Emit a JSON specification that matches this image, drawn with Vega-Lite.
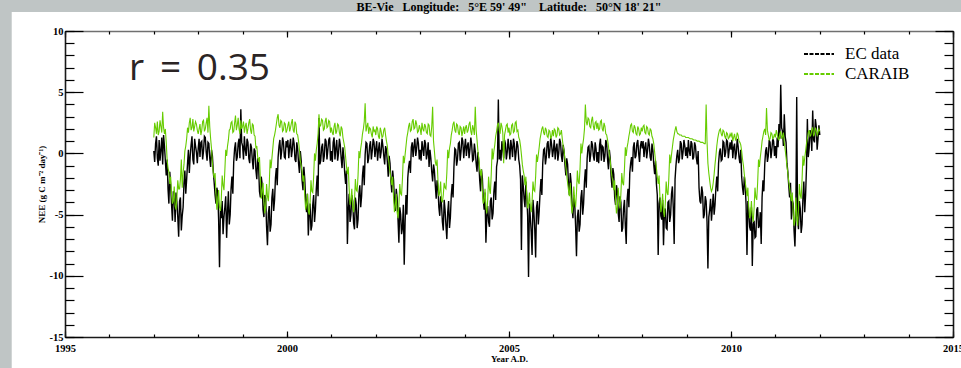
{
"$schema": "https://vega.github.io/schema/vega-lite/v6.json",
"width": 888, "height": 306,
"autosize": {"type": "none"},
"padding": {"left": 65, "top": 31, "right": 8, "bottom": 31},
"background": "#bfc5c5",
"title": {"text": "BE-Vie \u00a0 Longitude: \u00a0 5°E 59' 49\" \u00a0\u00a0 Latitude: \u00a0 50°N 18' 21\"", "font": "Liberation Serif", "fontSize": 12, "fontWeight": "bold", "color": "black", "baseline": "alphabetic", "frame": "group", "offset": -11, "anchor": "middle"},
"config": {
 "view": {"stroke": null},
 "axis": {"labelFont": "Liberation Serif", "labelFontWeight": "bold", "labelFontSize": 10.5, "labelColor": "black", "tickColor": "black", "tickWidth": 1.2, "domainColor": "#1a1a1a", "domainWidth": 1.6, "grid": false, "labelFlush": false, "labelOverlap": false, "titleFont": "Liberation Serif", "titleFontWeight": "bold", "titleFontSize": 9, "titleColor": "black"}
},
"data": {"values": [
{"t":1997,"e":0.2,"c":1.3},{"t":1997.02,"e":-0.7,"c":2.5},{"t":1997.04,"e":0.8,"c":2.1},{"t":1997.06,"e":1.4,"c":1.6},{"t":1997.08,"e":-0.4,"c":2.6},{"t":1997.1,"e":-1.0,"c":1.5},{"t":1997.12,"e":1.1,"c":1.8},{"t":1997.14,"e":-0.6,"c":2.7},{"t":1997.16,"e":0.3,"c":2.2},{"t":1997.18,"e":1.3,"c":1.7},{"t":1997.2,"e":-0.9,"c":3.4},{"t":1997.22,"e":1.5,"c":2.1},{"t":1997.24,"e":0.6,"c":1.6},{"t":1997.26,"e":-0.6,"c":2.0},{"t":1997.28,"e":-1.8,"c":0.9},{"t":1997.3,"e":-0.5,"c":-0.5},{"t":1997.32,"e":-2.9,"c":-1.2},{"t":1997.34,"e":-4.1,"c":-1.5},{"t":1997.36,"e":-1.5,"c":-2.5},{"t":1997.38,"e":-2.6,"c":-1.9},{"t":1997.4,"e":-4.2,"c":-3.4},{"t":1997.42,"e":-5.5,"c":-4.1},{"t":1997.44,"e":-3.1,"c":-3.9},{"t":1997.46,"e":-3.5,"c":-2.7},{"t":1997.48,"e":-5.6,"c":-4.3},{"t":1997.5,"e":-3.2,"c":-4.6},{"t":1997.52,"e":-4.0,"c":-3.6},{"t":1997.54,"e":-5.2,"c":-2.2},{"t":1997.56,"e":-6.8,"c":-2.9},{"t":1997.58,"e":-3.9,"c":-2.9},{"t":1997.6,"e":-3.6,"c":-2.1},{"t":1997.62,"e":-6.3,"c":-0.5},{"t":1997.64,"e":-5.1,"c":-2.8},{"t":1997.66,"e":-4.4,"c":-1.6},{"t":1997.68,"e":-2.4,"c":-0.9},{"t":1997.7,"e":-1.4,"c":0.2},{"t":1997.72,"e":-3.3,"c":0.6},{"t":1997.74,"e":-2.1,"c":1.2},{"t":1997.76,"e":-0.8,"c":2.1},{"t":1997.78,"e":0.3,"c":1.7},{"t":1997.8,"e":-1.6,"c":2.5},{"t":1997.82,"e":-0.2,"c":2.9},{"t":1997.84,"e":0.7,"c":1.9},{"t":1997.86,"e":1.4,"c":2.1},{"t":1997.88,"e":-0.5,"c":2.8},{"t":1997.9,"e":-0.9,"c":1.8},{"t":1997.92,"e":1.2,"c":2.2},{"t":1997.94,"e":0.6,"c":2.6},{"t":1997.96,"e":0.1,"c":2.4},{"t":1997.98,"e":-0.8,"c":1.9},
{"t":1998,"e":0.4,"c":1.6},{"t":1998.02,"e":1.2,"c":2.0},{"t":1998.04,"e":-0.3,"c":2.4},{"t":1998.06,"e":0.9,"c":1.5},{"t":1998.08,"e":1.0,"c":1.9},{"t":1998.1,"e":-0.5,"c":2.6},{"t":1998.12,"e":0.2,"c":2.7},{"t":1998.14,"e":1.4,"c":1.8},{"t":1998.16,"e":1.3,"c":2.0},{"t":1998.18,"e":0.1,"c":2.5},{"t":1998.2,"e":-0.6,"c":2.9},{"t":1998.22,"e":0.9,"c":1.7},{"t":1998.24,"e":0.8,"c":3.9},{"t":1998.26,"e":-0.4,"c":2.2},{"t":1998.28,"e":-1.1,"c":1.2},{"t":1998.3,"e":0.3,"c":0.4},{"t":1998.32,"e":-0.2,"c":-0.8},{"t":1998.34,"e":-1.5,"c":-1.6},{"t":1998.36,"e":-2.4,"c":-2.0},{"t":1998.38,"e":-3.4,"c":-1.6},{"t":1998.4,"e":-4.1,"c":-3.3},{"t":1998.42,"e":-2.8,"c":-4.6},{"t":1998.44,"e":-3.2,"c":-3.9},{"t":1998.46,"e":-5.4,"c":-3.0},{"t":1998.48,"e":-9.3,"c":-4.4},{"t":1998.5,"e":-4.6,"c":-4.7},{"t":1998.52,"e":-5.3,"c":-3.7},{"t":1998.54,"e":-3.9,"c":-1.8},{"t":1998.56,"e":-6.6,"c":-2.6},{"t":1998.58,"e":-5.2,"c":-3.0},{"t":1998.6,"e":-4.4,"c":-1.4},{"t":1998.62,"e":-3.5,"c":0.3},{"t":1998.64,"e":-6.9,"c":-0.2},{"t":1998.66,"e":-4.8,"c":0.6},{"t":1998.68,"e":-3.1,"c":1.1},{"t":1998.7,"e":-5.8,"c":1.9},{"t":1998.72,"e":-5.0,"c":2.0},{"t":1998.74,"e":-2.9,"c":2.5},{"t":1998.76,"e":-1.9,"c":2.6},{"t":1998.78,"e":-3.3,"c":1.7},{"t":1998.8,"e":-0.7,"c":1.8},{"t":1998.82,"e":0.4,"c":2.5},{"t":1998.84,"e":0.9,"c":3.1},{"t":1998.86,"e":-0.6,"c":1.9},{"t":1998.88,"e":-0.3,"c":2.3},{"t":1998.9,"e":0.8,"c":2.9},{"t":1998.92,"e":1.2,"c":2.0},{"t":1998.94,"e":-0.4,"c":1.6},{"t":1998.96,"e":3.6,"c":2.7},{"t":1998.98,"e":0.9,"c":2.0},
{"t":1999,"e":0.6,"c":2.2},{"t":1999.02,"e":-0.5,"c":2.6},{"t":1999.04,"e":1.4,"c":1.7},{"t":1999.06,"e":0.3,"c":2.2},{"t":1999.08,"e":-0.2,"c":2.5},{"t":1999.1,"e":1.2,"c":1.6},{"t":1999.12,"e":0.9,"c":2.0},{"t":1999.14,"e":-0.4,"c":2.5},{"t":1999.16,"e":-0.8,"c":2.8},{"t":1999.18,"e":0.8,"c":1.9},{"t":1999.2,"e":0.5,"c":1.6},{"t":1999.22,"e":-0.6,"c":2.4},{"t":1999.24,"e":-1.3,"c":2.3},{"t":1999.26,"e":0.4,"c":1.5},{"t":1999.28,"e":0.2,"c":1.4},{"t":1999.3,"e":-1.4,"c":0.4},{"t":1999.32,"e":-2.1,"c":0.6},{"t":1999.34,"e":-0.4,"c":-0.3},{"t":1999.36,"e":-1.0,"c":-0.7},{"t":1999.38,"e":-3.1,"c":-0.3},{"t":1999.4,"e":-3.6,"c":-2.1},{"t":1999.42,"e":-1.9,"c":-3.7},{"t":1999.44,"e":-2.5,"c":-3.2},{"t":1999.46,"e":-4.6,"c":-2.4},{"t":1999.48,"e":-5.2,"c":-3.9},{"t":1999.5,"e":-3.4,"c":-4.9},{"t":1999.52,"e":-3.7,"c":-4.3},{"t":1999.54,"e":-6.0,"c":-2.5},{"t":1999.56,"e":-7.5,"c":-3.5},{"t":1999.58,"e":-4.9,"c":-3.9},{"t":1999.6,"e":-4.3,"c":-2.6},{"t":1999.62,"e":-6.4,"c":-0.5},{"t":1999.64,"e":-5.8,"c":-1.2},{"t":1999.66,"e":-3.6,"c":-0.4},{"t":1999.68,"e":-2.9,"c":0.4},{"t":1999.7,"e":-4.7,"c":1.2},{"t":1999.72,"e":-3.8,"c":1.5},{"t":1999.74,"e":-2.0,"c":1.9},{"t":1999.76,"e":-1.2,"c":2.4},{"t":1999.78,"e":-2.6,"c":2.9},{"t":1999.8,"e":-0.3,"c":3.2},{"t":1999.82,"e":0.6,"c":2.3},{"t":1999.84,"e":1.1,"c":2.1},{"t":1999.86,"e":-0.5,"c":2.7},{"t":1999.88,"e":0.2,"c":2.6},{"t":1999.9,"e":1.3,"c":1.8},{"t":1999.92,"e":0.9,"c":1.9},{"t":1999.94,"e":-0.3,"c":2.5},{"t":1999.96,"e":-0.4,"c":2.4},{"t":1999.98,"e":1.0,"c":1.7},
{"t":2000,"e":0.5,"c":1.9},{"t":2000.02,"e":1.1,"c":2.3},{"t":2000.04,"e":-0.4,"c":2.6},{"t":2000.06,"e":0.6,"c":1.8},{"t":2000.08,"e":1.2,"c":2.1},{"t":2000.1,"e":-0.3,"c":2.5},{"t":2000.12,"e":0.3,"c":2.8},{"t":2000.14,"e":1.3,"c":1.9},{"t":2000.16,"e":0.8,"c":1.7},{"t":2000.18,"e":-0.5,"c":2.6},{"t":2000.2,"e":-0.7,"c":2.4},{"t":2000.22,"e":0.9,"c":1.6},{"t":2000.24,"e":0.4,"c":1.5},{"t":2000.26,"e":-0.8,"c":1.0},{"t":2000.28,"e":-1.6,"c":0.3},{"t":2000.3,"e":0.2,"c":-0.6},{"t":2000.32,"e":-0.6,"c":-1.0},{"t":2000.34,"e":-2.2,"c":-1.5},{"t":2000.36,"e":-3.0,"c":-2.3},{"t":2000.38,"e":-1.1,"c":-1.8},{"t":2000.4,"e":-2.1,"c":-3.5},{"t":2000.42,"e":-3.8,"c":-4.6},{"t":2000.44,"e":-4.8,"c":-4.2},{"t":2000.46,"e":-3.3,"c":-3.3},{"t":2000.48,"e":-6.7,"c":-4.7},{"t":2000.5,"e":-5.0,"c":-5.0},{"t":2000.52,"e":-4.1,"c":-4.0},{"t":2000.54,"e":-6.3,"c":-2.2},{"t":2000.56,"e":-5.9,"c":-3.1},{"t":2000.58,"e":-4.2,"c":-3.2},{"t":2000.6,"e":-3.4,"c":-1.9},{"t":2000.62,"e":-5.6,"c":0.0},{"t":2000.64,"e":-4.6,"c":-0.6},{"t":2000.66,"e":-2.9,"c":0.3},{"t":2000.68,"e":-1.8,"c":0.8},{"t":2000.7,"e":-3.5,"c":1.6},{"t":2000.72,"e":2.9,"c":3.2},{"t":2000.74,"e":-0.9,"c":2.2},{"t":2000.76,"e":-0.6,"c":2.3},{"t":2000.78,"e":0.5,"c":2.8},{"t":2000.8,"e":0.8,"c":2.7},{"t":2000.82,"e":-0.7,"c":1.9},{"t":2000.84,"e":-0.2,"c":2.0},{"t":2000.86,"e":1.2,"c":2.6},{"t":2000.88,"e":1.0,"c":2.9},{"t":2000.9,"e":-0.5,"c":2.1},{"t":2000.92,"e":0.3,"c":2.2},{"t":2000.94,"e":1.1,"c":2.7},{"t":2000.96,"e":1.3,"c":2.6},{"t":2000.98,"e":-0.6,"c":1.7},
{"t":2001,"e":0.2,"c":2.1},{"t":2001.02,"e":-0.7,"c":1.7},{"t":2001.04,"e":0.9,"c":1.5},{"t":2001.06,"e":1.3,"c":2.2},{"t":2001.08,"e":-0.5,"c":2.5},{"t":2001.1,"e":0.4,"c":1.6},{"t":2001.12,"e":1.1,"c":1.8},{"t":2001.14,"e":-0.6,"c":2.4},{"t":2001.16,"e":0.0,"c":2.3},{"t":2001.18,"e":1.2,"c":1.7},{"t":2001.2,"e":0.7,"c":1.4},{"t":2001.22,"e":-0.4,"c":2.2},{"t":2001.24,"e":-1.2,"c":2.0},{"t":2001.26,"e":0.5,"c":1.3},{"t":2001.28,"e":-0.3,"c":0.9},{"t":2001.3,"e":-1.6,"c":0.5},{"t":2001.32,"e":-2.5,"c":-0.3},{"t":2001.34,"e":-1.4,"c":-1.1},{"t":2001.36,"e":-7.4,"c":-1.7},{"t":2001.38,"e":-4.5,"c":-1.1},{"t":2001.4,"e":-3.3,"c":-2.9},{"t":2001.42,"e":-5.6,"c":-4.2},{"t":2001.44,"e":-5.0,"c":-3.8},{"t":2001.46,"e":-3.4,"c":-2.9},{"t":2001.48,"e":-3.9,"c":-4.4},{"t":2001.5,"e":-5.7,"c":-4.8},{"t":2001.52,"e":-6.2,"c":-3.9},{"t":2001.54,"e":-3.6,"c":-2.1},{"t":2001.56,"e":-4.2,"c":-3.0},{"t":2001.58,"e":-6.1,"c":-3.1},{"t":2001.6,"e":-5.4,"c":-1.8},{"t":2001.62,"e":-3.3,"c":0.2},{"t":2001.64,"e":-2.6,"c":-0.4},{"t":2001.66,"e":-4.4,"c":0.4},{"t":2001.68,"e":-3.5,"c":0.9},{"t":2001.7,"e":-1.8,"c":1.6},{"t":2001.72,"e":-1.0,"c":2.0},{"t":2001.74,"e":-2.6,"c":2.6},{"t":2001.76,"e":-0.1,"c":4.1},{"t":2001.78,"e":0.9,"c":1.8},{"t":2001.8,"e":0.8,"c":2.2},{"t":2001.82,"e":-0.8,"c":2.5},{"t":2001.84,"e":-0.4,"c":1.6},{"t":2001.86,"e":0.6,"c":2.1},{"t":2001.88,"e":1.0,"c":2.0},{"t":2001.9,"e":-0.5,"c":1.6},{"t":2001.92,"e":0.2,"c":1.3},{"t":2001.94,"e":1.2,"c":2.2},{"t":2001.96,"e":0.9,"c":1.8},{"t":2001.98,"e":-0.3,"c":1.9},
{"t":2002,"e":0.4,"c":1.5},{"t":2002.02,"e":1.0,"c":2.2},{"t":2002.04,"e":-0.6,"c":2.0},{"t":2002.06,"e":0.3,"c":1.4},{"t":2002.08,"e":0.9,"c":1.2},{"t":2002.1,"e":-0.4,"c":2.1},{"t":2002.12,"e":0.1,"c":1.8},{"t":2002.14,"e":1.2,"c":1.3},{"t":2002.16,"e":0.6,"c":1.4},{"t":2002.18,"e":-0.2,"c":1.9},{"t":2002.2,"e":-0.9,"c":2.1},{"t":2002.22,"e":0.6,"c":1.5},{"t":2002.24,"e":0.3,"c":1.0},{"t":2002.26,"e":-0.7,"c":0.6},{"t":2002.28,"e":-1.9,"c":-0.2},{"t":2002.3,"e":-0.2,"c":-0.9},{"t":2002.32,"e":-0.8,"c":-1.5},{"t":2002.34,"e":-2.3,"c":-2.1},{"t":2002.36,"e":-3.2,"c":-2.6},{"t":2002.38,"e":-1.4,"c":-1.9},{"t":2002.4,"e":-2.2,"c":-3.6},{"t":2002.42,"e":-3.9,"c":-4.8},{"t":2002.44,"e":-4.7,"c":-4.3},{"t":2002.46,"e":-2.9,"c":-3.3},{"t":2002.48,"e":-3.6,"c":-4.8},{"t":2002.5,"e":-5.4,"c":-5.3},{"t":2002.52,"e":-7.3,"c":-4.2},{"t":2002.54,"e":-4.4,"c":-2.5},{"t":2002.56,"e":-5.0,"c":-3.3},{"t":2002.58,"e":-6.6,"c":-3.4},{"t":2002.6,"e":-6.1,"c":-2.1},{"t":2002.62,"e":-4.2,"c":-0.2},{"t":2002.64,"e":-9.1,"c":-0.8},{"t":2002.66,"e":-5.6,"c":-0.1},{"t":2002.68,"e":-3.4,"c":0.6},{"t":2002.7,"e":-5.0,"c":1.3},{"t":2002.72,"e":-2.0,"c":1.7},{"t":2002.74,"e":-1.1,"c":2.2},{"t":2002.76,"e":-0.6,"c":2.5},{"t":2002.78,"e":-1.6,"c":1.8},{"t":2002.8,"e":0.5,"c":1.9},{"t":2002.82,"e":0.9,"c":2.6},{"t":2002.84,"e":-0.3,"c":2.8},{"t":2002.86,"e":0.6,"c":2.0},{"t":2002.88,"e":1.2,"c":2.1},{"t":2002.9,"e":-0.2,"c":2.7},{"t":2002.92,"e":0.4,"c":2.4},{"t":2002.94,"e":1.3,"c":1.7},{"t":2002.96,"e":0.8,"c":1.8},{"t":2002.98,"e":-0.5,"c":2.3},
{"t":2003,"e":0.3,"c":2.0},{"t":2003.02,"e":-0.6,"c":1.5},{"t":2003.04,"e":1.0,"c":2.5},{"t":2003.06,"e":0.4,"c":2.0},{"t":2003.08,"e":-0.2,"c":1.8},{"t":2003.1,"e":1.1,"c":2.4},{"t":2003.12,"e":0.8,"c":2.2},{"t":2003.14,"e":-0.5,"c":1.7},{"t":2003.16,"e":0.0,"c":1.6},{"t":2003.18,"e":0.9,"c":2.4},{"t":2003.2,"e":-1.1,"c":2.3},{"t":2003.22,"e":0.3,"c":1.5},{"t":2003.24,"e":-0.4,"c":1.4},{"t":2003.26,"e":-1.5,"c":2.2},{"t":2003.28,"e":-2.3,"c":3.8},{"t":2003.3,"e":-0.9,"c":1.0},{"t":2003.32,"e":-1.4,"c":0.2},{"t":2003.34,"e":-2.6,"c":-0.7},{"t":2003.36,"e":-3.7,"c":-1.0},{"t":2003.38,"e":-2.2,"c":-0.5},{"t":2003.4,"e":-2.8,"c":-2.2},{"t":2003.42,"e":-4.4,"c":-3.5},{"t":2003.44,"e":-5.1,"c":-3.2},{"t":2003.46,"e":-3.5,"c":-2.3},{"t":2003.48,"e":-4.2,"c":-3.8},{"t":2003.5,"e":-5.6,"c":-4.0},{"t":2003.52,"e":-6.3,"c":-3.4},{"t":2003.54,"e":-3.8,"c":-2.4},{"t":2003.56,"e":-4.6,"c":-2.8},{"t":2003.58,"e":-5.9,"c":-2.9},{"t":2003.6,"e":-7.0,"c":-1.6},{"t":2003.62,"e":-4.8,"c":0.3},{"t":2003.64,"e":-3.9,"c":-0.4},{"t":2003.66,"e":-6.1,"c":0.4},{"t":2003.68,"e":-5.2,"c":0.8},{"t":2003.7,"e":-3.4,"c":1.5},{"t":2003.72,"e":-2.5,"c":1.9},{"t":2003.74,"e":-3.6,"c":2.4},{"t":2003.76,"e":-1.1,"c":2.6},{"t":2003.78,"e":0.4,"c":1.9},{"t":2003.8,"e":0.3,"c":1.7},{"t":2003.82,"e":-1.0,"c":2.4},{"t":2003.84,"e":-0.5,"c":2.3},{"t":2003.86,"e":0.8,"c":1.7},{"t":2003.88,"e":0.9,"c":1.5},{"t":2003.9,"e":-0.6,"c":2.2},{"t":2003.92,"e":0.2,"c":2.1},{"t":2003.94,"e":1.3,"c":1.4},{"t":2003.96,"e":1.0,"c":1.8},{"t":2003.98,"e":-0.4,"c":2.2},
{"t":2004,"e":0.5,"c":1.6},{"t":2004.02,"e":1.2,"c":2.1},{"t":2004.04,"e":-0.2,"c":2.3},{"t":2004.06,"e":0.6,"c":1.7},{"t":2004.08,"e":0.9,"c":1.9},{"t":2004.1,"e":-0.4,"c":2.4},{"t":2004.12,"e":0.3,"c":2.6},{"t":2004.14,"e":1.3,"c":1.8},{"t":2004.16,"e":0.7,"c":1.5},{"t":2004.18,"e":-0.6,"c":2.3},{"t":2004.2,"e":-0.5,"c":2.0},{"t":2004.22,"e":0.8,"c":1.5},{"t":2004.24,"e":0.2,"c":3.8},{"t":2004.26,"e":-0.8,"c":1.9},{"t":2004.28,"e":-1.5,"c":1.1},{"t":2004.3,"e":0.1,"c":0.2},{"t":2004.32,"e":-0.7,"c":-0.4},{"t":2004.34,"e":-2.2,"c":-1.3},{"t":2004.36,"e":-3.1,"c":-1.8},{"t":2004.38,"e":-1.3,"c":-1.3},{"t":2004.4,"e":-2.0,"c":-3.0},{"t":2004.42,"e":-3.7,"c":-4.1},{"t":2004.44,"e":-4.6,"c":-3.9},{"t":2004.46,"e":-3.2,"c":-2.9},{"t":2004.48,"e":-7.3,"c":-4.4},{"t":2004.5,"e":-5.1,"c":-4.9},{"t":2004.52,"e":-4.3,"c":-3.8},{"t":2004.54,"e":-5.6,"c":-1.9},{"t":2004.56,"e":-6.0,"c":-2.9},{"t":2004.58,"e":-3.9,"c":-3.3},{"t":2004.6,"e":-3.6,"c":-1.7},{"t":2004.62,"e":-5.4,"c":0.4},{"t":2004.64,"e":-4.9,"c":-0.5},{"t":2004.66,"e":-3.1,"c":0.2},{"t":2004.68,"e":-2.3,"c":0.7},{"t":2004.7,"e":-3.8,"c":1.4},{"t":2004.72,"e":-1.1,"c":1.8},{"t":2004.74,"e":-0.6,"c":2.3},{"t":2004.76,"e":4.4,"c":2.5},{"t":2004.78,"e":-0.5,"c":1.9},{"t":2004.8,"e":0.3,"c":1.6},{"t":2004.82,"e":-0.6,"c":2.5},{"t":2004.84,"e":1.0,"c":2.2},{"t":2004.86,"e":0.4,"c":1.7},{"t":2004.88,"e":-0.4,"c":-0.8},{"t":2004.9,"e":1.1,"c":1.5},{"t":2004.92,"e":0.8,"c":1.9},{"t":2004.94,"e":-0.5,"c":2.3},{"t":2004.96,"e":0.1,"c":2.4},{"t":2004.98,"e":1.2,"c":1.7},
{"t":2005,"e":0.4,"c":2.1},{"t":2005.02,"e":-0.5,"c":1.5},{"t":2005.04,"e":1.1,"c":1.6},{"t":2005.06,"e":0.5,"c":2.3},{"t":2005.08,"e":-0.3,"c":2.4},{"t":2005.1,"e":1.2,"c":1.7},{"t":2005.12,"e":0.8,"c":1.8},{"t":2005.14,"e":-0.6,"c":2.5},{"t":2005.16,"e":0.1,"c":2.6},{"t":2005.18,"e":1.0,"c":1.8},{"t":2005.2,"e":0.6,"c":1.9},{"t":2005.22,"e":-0.5,"c":1.3},{"t":2005.24,"e":-1.0,"c":1.1},{"t":2005.26,"e":-2.1,"c":0.6},{"t":2005.28,"e":-7.9,"c":-0.1},{"t":2005.3,"e":-1.8,"c":-0.9},{"t":2005.32,"e":-2.6,"c":-1.4},{"t":2005.34,"e":-3.7,"c":-1.8},{"t":2005.36,"e":-4.4,"c":-2.6},{"t":2005.38,"e":-2.3,"c":-1.9},{"t":2005.4,"e":-3.5,"c":-3.5},{"t":2005.42,"e":-5.1,"c":-4.5},{"t":2005.44,"e":-10.1,"c":-4.1},{"t":2005.46,"e":-4.1,"c":-3.2},{"t":2005.48,"e":-5.2,"c":-4.4},{"t":2005.5,"e":-6.4,"c":-4.8},{"t":2005.52,"e":-8.3,"c":-3.9},{"t":2005.54,"e":-3.8,"c":-2.3},{"t":2005.56,"e":-4.8,"c":-3.0},{"t":2005.58,"e":-6.2,"c":-3.1},{"t":2005.6,"e":-8.5,"c":-1.9},{"t":2005.62,"e":-4.4,"c":-0.1},{"t":2005.64,"e":-3.9,"c":-0.7},{"t":2005.66,"e":-5.8,"c":-0.1},{"t":2005.68,"e":-4.7,"c":0.5},{"t":2005.7,"e":-3.2,"c":1.2},{"t":2005.72,"e":-2.1,"c":1.6},{"t":2005.74,"e":-3.4,"c":2.0},{"t":2005.76,"e":-0.8,"c":2.2},{"t":2005.78,"e":0.3,"c":1.7},{"t":2005.8,"e":0.4,"c":1.5},{"t":2005.82,"e":-0.9,"c":2.1},{"t":2005.84,"e":-0.3,"c":1.9},{"t":2005.86,"e":0.8,"c":1.4},{"t":2005.88,"e":1.0,"c":1.3},{"t":2005.9,"e":-0.4,"c":1.9},{"t":2005.92,"e":0.2,"c":1.8},{"t":2005.94,"e":1.3,"c":1.2},{"t":2005.96,"e":0.7,"c":1.4},{"t":2005.98,"e":-0.3,"c":1.9},
{"t":2006,"e":0.3,"c":1.4},{"t":2006.02,"e":1.1,"c":2.0},{"t":2006.04,"e":-0.5,"c":1.9},{"t":2006.06,"e":0.4,"c":1.3},{"t":2006.08,"e":0.8,"c":1.5},{"t":2006.1,"e":-0.6,"c":2.1},{"t":2006.12,"e":0.0,"c":2.0},{"t":2006.14,"e":1.2,"c":1.5},{"t":2006.16,"e":0.9,"c":1.6},{"t":2006.18,"e":-0.2,"c":1.9},{"t":2006.2,"e":-0.7,"c":1.2},{"t":2006.22,"e":0.7,"c":0.6},{"t":2006.24,"e":0.2,"c":0.2},{"t":2006.26,"e":-0.9,"c":-0.5},{"t":2006.28,"e":-1.8,"c":-1.1},{"t":2006.3,"e":-0.4,"c":-1.8},{"t":2006.32,"e":-0.9,"c":-2.4},{"t":2006.34,"e":-2.5,"c":-3.0},{"t":2006.36,"e":-3.4,"c":-3.5},{"t":2006.38,"e":-1.6,"c":-2.4},{"t":2006.4,"e":-2.4,"c":-4.0},{"t":2006.42,"e":-4.3,"c":-4.9},{"t":2006.44,"e":-5.3,"c":-4.3},{"t":2006.46,"e":-3.4,"c":-2.7},{"t":2006.48,"e":-4.1,"c":-3.9},{"t":2006.5,"e":-5.9,"c":-4.4},{"t":2006.52,"e":-8.4,"c":-3.2},{"t":2006.54,"e":-5.2,"c":-1.4},{"t":2006.56,"e":-4.6,"c":-2.3},{"t":2006.58,"e":-6.4,"c":-2.5},{"t":2006.6,"e":-5.8,"c":-1.2},{"t":2006.62,"e":-3.6,"c":0.8},{"t":2006.64,"e":-3.0,"c":0.0},{"t":2006.66,"e":-5.0,"c":0.7},{"t":2006.68,"e":-4.1,"c":1.2},{"t":2006.7,"e":-2.3,"c":2.0},{"t":2006.72,"e":-1.3,"c":4.0},{"t":2006.74,"e":-2.8,"c":2.6},{"t":2006.76,"e":-0.4,"c":2.3},{"t":2006.78,"e":0.5,"c":2.9},{"t":2006.8,"e":0.6,"c":2.8},{"t":2006.82,"e":-0.7,"c":2.2},{"t":2006.84,"e":-0.1,"c":2.1},{"t":2006.86,"e":1.0,"c":2.7},{"t":2006.88,"e":0.7,"c":3.0},{"t":2006.9,"e":-0.2,"c":2.2},{"t":2006.92,"e":-0.6,"c":1.9},{"t":2006.94,"e":0.9,"c":2.5},{"t":2006.96,"e":0.4,"c":2.6},{"t":2006.98,"e":-0.7,"c":2.0},
{"t":2007,"e":0.1,"c":2.5},{"t":2007.02,"e":-0.8,"c":1.9},{"t":2007.04,"e":0.7,"c":2.0},{"t":2007.06,"e":1.2,"c":2.6},{"t":2007.08,"e":-0.6,"c":2.7},{"t":2007.1,"e":0.6,"c":2.0},{"t":2007.12,"e":0.5,"c":1.8},{"t":2007.14,"e":-0.7,"c":2.5},{"t":2007.16,"e":-0.2,"c":2.2},{"t":2007.18,"e":1.1,"c":1.6},{"t":2007.2,"e":0.8,"c":1.5},{"t":2007.22,"e":-0.5,"c":1.1},{"t":2007.24,"e":-1.3,"c":0.6},{"t":2007.26,"e":0.3,"c":-0.1},{"t":2007.28,"e":-0.4,"c":-0.6},{"t":2007.3,"e":-1.9,"c":-1.4},{"t":2007.32,"e":-2.8,"c":-1.9},{"t":2007.34,"e":-1.2,"c":-2.3},{"t":2007.36,"e":-1.7,"c":-3.0},{"t":2007.38,"e":-3.6,"c":-2.2},{"t":2007.4,"e":-4.2,"c":-3.8},{"t":2007.42,"e":-2.6,"c":-4.9},{"t":2007.44,"e":-3.1,"c":-4.4},{"t":2007.46,"e":-4.9,"c":-2.8},{"t":2007.48,"e":-5.6,"c":-4.0},{"t":2007.5,"e":-3.5,"c":-4.5},{"t":2007.52,"e":-4.0,"c":-3.3},{"t":2007.54,"e":-6.4,"c":-1.6},{"t":2007.56,"e":-6.1,"c":-2.4},{"t":2007.58,"e":-4.5,"c":-2.6},{"t":2007.6,"e":-3.8,"c":-1.3},{"t":2007.62,"e":-5.9,"c":0.5},{"t":2007.64,"e":-7.4,"c":-0.2},{"t":2007.66,"e":-3.8,"c":0.5},{"t":2007.68,"e":-2.9,"c":0.9},{"t":2007.7,"e":-4.4,"c":1.4},{"t":2007.72,"e":-1.6,"c":1.8},{"t":2007.74,"e":-0.8,"c":2.3},{"t":2007.76,"e":-0.3,"c":2.4},{"t":2007.78,"e":-1.5,"c":1.8},{"t":2007.8,"e":0.5,"c":1.7},{"t":2007.82,"e":0.9,"c":2.3},{"t":2007.84,"e":-0.4,"c":2.1},{"t":2007.86,"e":-0.2,"c":1.6},{"t":2007.88,"e":0.8,"c":1.5},{"t":2007.9,"e":1.1,"c":2.2},{"t":2007.92,"e":0.0,"c":2.0},{"t":2007.94,"e":-0.7,"c":1.5},{"t":2007.96,"e":0.6,"c":1.6},{"t":2007.98,"e":1.0,"c":2.1},
{"t":2008,"e":0.4,"c":1.8},{"t":2008.02,"e":1.0,"c":2.2},{"t":2008.04,"e":-0.3,"c":2.3},{"t":2008.06,"e":0.5,"c":1.7},{"t":2008.08,"e":0.9,"c":1.6},{"t":2008.1,"e":-0.4,"c":2.2},{"t":2008.12,"e":0.2,"c":2.1},{"t":2008.14,"e":1.2,"c":1.6},{"t":2008.16,"e":0.7,"c":1.5},{"t":2008.18,"e":-0.3,"c":2.0},{"t":2008.2,"e":-0.6,"c":1.9},{"t":2008.22,"e":0.8,"c":1.4},{"t":2008.24,"e":0.3,"c":1.2},{"t":2008.26,"e":-0.9,"c":0.8},{"t":2008.28,"e":-1.7,"c":0.1},{"t":2008.3,"e":-0.6,"c":-0.6},{"t":2008.32,"e":-2.5,"c":-1.2},{"t":2008.34,"e":-3.4,"c":-1.9},{"t":2008.36,"e":-8.3,"c":-2.5},{"t":2008.38,"e":-4.1,"c":-1.8},{"t":2008.4,"e":-3.6,"c":-3.6},{"t":2008.42,"e":-5.1,"c":-4.8},{"t":2008.44,"e":-5.4,"c":-4.3},{"t":2008.46,"e":-3.8,"c":-3.3},{"t":2008.48,"e":-7.5,"c":-4.7},{"t":2008.5,"e":-4.9,"c":-5.2},{"t":2008.52,"e":-4.5,"c":-4.1},{"t":2008.54,"e":-6.1,"c":-2.3},{"t":2008.56,"e":-6.2,"c":-3.2},{"t":2008.58,"e":-4.0,"c":-3.4},{"t":2008.6,"e":-3.9,"c":-2.0},{"t":2008.62,"e":-5.6,"c":-0.1},{"t":2008.64,"e":-5.0,"c":-0.8},{"t":2008.66,"e":-3.3,"c":-0.1},{"t":2008.68,"e":-2.7,"c":0.5},{"t":2008.7,"e":-4.4,"c":1.1},{"t":2008.72,"e":-7.4,"c":1.5},{"t":2008.74,"e":-2.1,"c":1.9},{"t":2008.76,"e":-1.0,"c":2.2},{"t":2008.78,"e":-0.2,"c":1.8},{"t":2008.8,"e":0.3,"c":1.6},{"t":2008.82,"e":-0.8,"c":1.6},{"t":2008.84,"e":-0.4,"c":1.5},{"t":2008.86,"e":1.0,"c":1.5},{"t":2008.88,"e":0.8,"c":1.5},{"t":2008.9,"e":-0.5,"c":1.4},{"t":2008.92,"e":0.1,"c":1.4},{"t":2008.94,"e":1.1,"c":1.4},{"t":2008.96,"e":0.6,"c":1.4},{"t":2008.98,"e":-0.2,"c":1.3},
{"t":2009,"e":0.5,"c":1.3},{"t":2009.02,"e":-0.4,"c":1.3},{"t":2009.04,"e":1.1,"c":1.3},{"t":2009.06,"e":0.2,"c":1.25},{"t":2009.08,"e":-0.2,"c":1.2},{"t":2009.1,"e":1.0,"c":1.2},{"t":2009.12,"e":0.8,"c":1.2},{"t":2009.14,"e":-0.5,"c":1.15},{"t":2009.16,"e":-0.3,"c":1.1},{"t":2009.18,"e":0.9,"c":1.1},{"t":2009.2,"e":0.6,"c":1.1},{"t":2009.22,"e":-0.4,"c":1.05},{"t":2009.24,"e":-0.9,"c":1.0},{"t":2009.26,"e":0.2,"c":1.0},{"t":2009.28,"e":-2.8,"c":1.0},{"t":2009.3,"e":-3.9,"c":0.95},{"t":2009.32,"e":-4.1,"c":0.9},{"t":2009.34,"e":-2.7,"c":0.9},{"t":2009.36,"e":-3.2,"c":0.9},{"t":2009.38,"e":-5.3,"c":0.85},{"t":2009.4,"e":-5.0,"c":0.8},{"t":2009.42,"e":-3.5,"c":0.8},{"t":2009.44,"e":-3.9,"c":4.0},{"t":2009.46,"e":-5.6,"c":1.0},{"t":2009.48,"e":-9.4,"c":-0.8},{"t":2009.5,"e":-5.2,"c":-1.6},{"t":2009.52,"e":-4.6,"c":-2.2},{"t":2009.54,"e":-3.7,"c":-2.8},{"t":2009.56,"e":-5.5,"c":-3.1},{"t":2009.58,"e":-4.4,"c":-2.9},{"t":2009.6,"e":-3.3,"c":-2.4},{"t":2009.62,"e":-5.0,"c":-1.7},{"t":2009.64,"e":-4.2,"c":-0.9},{"t":2009.66,"e":-2.8,"c":-0.2},{"t":2009.68,"e":-1.9,"c":0.6},{"t":2009.7,"e":-3.1,"c":1.2},{"t":2009.72,"e":-0.8,"c":1.6},{"t":2009.74,"e":0.1,"c":1.9},{"t":2009.76,"e":0.4,"c":2.0},{"t":2009.78,"e":-0.6,"c":1.6},{"t":2009.8,"e":-0.5,"c":1.4},{"t":2009.82,"e":1.0,"c":1.9},{"t":2009.84,"e":0.9,"c":1.8},{"t":2009.86,"e":-0.3,"c":1.4},{"t":2009.88,"e":0.1,"c":1.2},{"t":2009.9,"e":1.1,"c":1.7},{"t":2009.92,"e":1.0,"c":1.6},{"t":2009.94,"e":-0.4,"c":1.2},{"t":2009.96,"e":0.3,"c":1.3},{"t":2009.98,"e":0.9,"c":1.6},
{"t":2010,"e":0.3,"c":1.4},{"t":2010.02,"e":1.1,"c":1.7},{"t":2010.04,"e":-0.4,"c":1.0},{"t":2010.06,"e":0.5,"c":1.3},{"t":2010.08,"e":0.8,"c":1.6},{"t":2010.1,"e":-0.5,"c":1.1},{"t":2010.12,"e":0.0,"c":1.2},{"t":2010.14,"e":1.2,"c":1.7},{"t":2010.16,"e":0.6,"c":1.5},{"t":2010.18,"e":-0.3,"c":1.0},{"t":2010.2,"e":-0.8,"c":0.9},{"t":2010.22,"e":0.3,"c":0.7},{"t":2010.24,"e":-1.9,"c":0.2},{"t":2010.26,"e":-2.8,"c":-0.5},{"t":2010.28,"e":-3.4,"c":-1.0},{"t":2010.3,"e":-1.9,"c":-1.7},{"t":2010.32,"e":-2.6,"c":-2.3},{"t":2010.34,"e":-4.2,"c":-2.9},{"t":2010.36,"e":-8.3,"c":-3.5},{"t":2010.38,"e":-3.9,"c":-2.8},{"t":2010.4,"e":-4.8,"c":-4.4},{"t":2010.42,"e":-6.0,"c":-5.3},{"t":2010.44,"e":-6.3,"c":-4.9},{"t":2010.46,"e":-4.4,"c":-3.9},{"t":2010.48,"e":-9.2,"c":-5.1},{"t":2010.5,"e":-5.8,"c":-5.6},{"t":2010.52,"e":-5.5,"c":-4.5},{"t":2010.54,"e":-6.9,"c":-2.8},{"t":2010.56,"e":-6.8,"c":-3.6},{"t":2010.58,"e":-4.6,"c":-3.8},{"t":2010.6,"e":-4.4,"c":-2.4},{"t":2010.62,"e":-6.1,"c":-0.5},{"t":2010.64,"e":-5.9,"c":-1.1},{"t":2010.66,"e":-4.8,"c":-0.3},{"t":2010.68,"e":-7.4,"c":0.3},{"t":2010.7,"e":-3.6,"c":1.0},{"t":2010.72,"e":-2.2,"c":1.4},{"t":2010.74,"e":-3.1,"c":1.8},{"t":2010.76,"e":-0.9,"c":2.0},{"t":2010.78,"e":0.2,"c":1.5},{"t":2010.8,"e":0.5,"c":3.7},{"t":2010.82,"e":-0.7,"c":1.9},{"t":2010.84,"e":-0.2,"c":1.5},{"t":2010.86,"e":1.1,"c":1.1},{"t":2010.88,"e":0.9,"c":1.2},{"t":2010.9,"e":-0.4,"c":1.7},{"t":2010.92,"e":0.3,"c":1.6},{"t":2010.94,"e":1.2,"c":1.2},{"t":2010.96,"e":1.0,"c":1.3},{"t":2010.98,"e":-0.2,"c":1.6},
{"t":2011,"e":0.6,"c":1.3},{"t":2011.02,"e":-0.4,"c":1.9},{"t":2011.04,"e":1.3,"c":1.6},{"t":2011.06,"e":0.5,"c":1.2},{"t":2011.08,"e":2.4,"c":1.1},{"t":2011.1,"e":1.2,"c":1.6},{"t":2011.12,"e":5.6,"c":1.8},{"t":2011.14,"e":2.1,"c":1.2},{"t":2011.16,"e":1.8,"c":1.4},{"t":2011.18,"e":0.6,"c":1.7},{"t":2011.2,"e":3.2,"c":0.9},{"t":2011.22,"e":1.4,"c":0.3},{"t":2011.24,"e":0.9,"c":-0.3},{"t":2011.26,"e":-0.8,"c":-1.0},{"t":2011.28,"e":-1.5,"c":-1.6},{"t":2011.3,"e":-2.6,"c":-2.3},{"t":2011.32,"e":-3.6,"c":-2.8},{"t":2011.34,"e":-2.4,"c":-3.4},{"t":2011.36,"e":-5.4,"c":-3.9},{"t":2011.38,"e":-3.8,"c":-3.2},{"t":2011.4,"e":-4.1,"c":-4.8},{"t":2011.42,"e":-6.3,"c":-5.9},{"t":2011.44,"e":-7.6,"c":-5.5},{"t":2011.46,"e":-4.9,"c":-3.6},{"t":2011.48,"e":4.6,"c":-5.1},{"t":2011.5,"e":-5.5,"c":-5.9},{"t":2011.52,"e":-6.2,"c":-4.4},{"t":2011.54,"e":-3.9,"c":-2.5},{"t":2011.56,"e":-4.5,"c":-3.4},{"t":2011.58,"e":-6.5,"c":-3.7},{"t":2011.6,"e":-5.8,"c":-2.2},{"t":2011.62,"e":-3.6,"c":-0.2},{"t":2011.64,"e":-2.3,"c":-1.0},{"t":2011.66,"e":-4.8,"c":-0.4},{"t":2011.68,"e":-3.4,"c":0.2},{"t":2011.7,"e":-1.2,"c":0.8},{"t":2011.72,"e":2.8,"c":1.2},{"t":2011.74,"e":-0.3,"c":1.7},{"t":2011.76,"e":0.4,"c":1.9},{"t":2011.78,"e":1.9,"c":1.4},{"t":2011.8,"e":1.6,"c":1.5},{"t":2011.82,"e":0.2,"c":2.0},{"t":2011.84,"e":3.5,"c":2.1},{"t":2011.86,"e":1.1,"c":1.4},{"t":2011.88,"e":0.9,"c":1.6},{"t":2011.9,"e":2.8,"c":2.1},{"t":2011.92,"e":2.2,"c":1.9},{"t":2011.94,"e":0.3,"c":1.5},{"t":2011.96,"e":1.2,"c":1.7},{"t":2011.98,"e":2.3,"c":2.0},
{"t":2012,"e":1.5,"c":1.8}
]},
"layer": [
 {
  "data": {"values": [{}]},
  "mark": {"type": "rect", "color": "white", "clip": false},
  "encoding": {
   "x": {"datum": 1993.8, "type": "quantitative", "scale": {"domain": [1995, 2015], "nice": false, "zero": false}, "axis": null},
   "x2": {"datum": 2016.5},
   "y": {"datum": 11.55, "type": "quantitative", "scale": {"domain": [-15, 10], "nice": false, "zero": false}, "axis": null},
   "y2": {"datum": -18}
  }
 },
 {
  "mark": {"type": "line", "strokeWidth": 1.4},
  "encoding": {
   "x": {"field": "t", "type": "quantitative",
    "axis": {"zindex": 2, "orient": "bottom", "values": [1995, 2000, 2005, 2010, 2015], "labelExpr": "datum.value + ''", "tickSize": -6, "labelPadding": 12, "title": "Year A.D.", "titlePadding": 1, "domain": true}},
   "y": {"field": "e", "type": "quantitative",
    "axis": {"zindex": 2, "orient": "left", "values": [-15, -10, -5, 0, 5, 10], "labelExpr": "datum.value + ''", "tickSize": -18, "labelPadding": 20, "title": "NEE (g C m\u207b\u00b2 day\u207b\u00b9)", "titlePadding": 3, "domain": true}},
   "color": {"datum": "EC data", "type": "nominal", "scale": {"domain": ["EC data", "CARAIB"], "range": ["#000000", "#66cc00"]},
    "legend": {"orient": "none", "legendX": 738, "legendY": 13, "title": null, "symbolType": "stroke", "symbolSize": 900, "symbolStrokeWidth": 2, "symbolDash": [4, 1.5], "labelFont": "Liberation Serif", "labelFontSize": 17, "labelColor": "black", "labelOffset": 10, "rowPadding": 0, "clipHeight": 20}}
  }
 },
 {
  "mark": {"type": "line", "strokeWidth": 1.1},
  "encoding": {
   "x": {"field": "t", "type": "quantitative", "axis": {"zindex": 2, "orient": "bottom", "values": [1995,1996,1997,1998,1999,2000,2001,2002,2003,2004,2005,2006,2007,2008,2009,2010,2011,2012,2013,2014,2015], "labels": false, "tickSize": -3, "title": null, "domain": false}},
   "y": {"field": "c", "type": "quantitative", "axis": {"zindex": 2, "orient": "left", "values": [-15,-14,-13,-12,-11,-10,-9,-8,-7,-6,-5,-4,-3,-2,-1,0,1,2,3,4,5,6,7,8,9,10], "labels": false, "tickSize": -9, "title": null, "domain": false}},
   "color": {"datum": "CARAIB", "type": "nominal"}
  }
 },
 {
  "data": {"values": [{}]},
  "mark": {"type": "text", "text": "r \u2009= \u20090.35", "font": "Open Sans", "fontSize": 37, "color": "#2b2424", "align": "center", "baseline": "alphabetic"},
  "encoding": {
   "x": {"datum": 1998.03, "type": "quantitative", "axis": {"zindex": 2, "orient": "top", "values": [1995, 2000, 2005, 2010, 2015], "labels": false, "tickSize": -6, "title": null, "domain": true, "domainColor": "#707070"}},
   "y": {"datum": 6.0, "type": "quantitative", "axis": {"zindex": 2, "orient": "right", "values": [-15, -10, -5, 0, 5, 10], "labels": false, "tickSize": -18, "title": null, "domain": true}}
  }
 },
 {
  "data": {"values": [{}]},
  "mark": {"type": "text", "text": ""},
  "encoding": {
   "x": {"datum": 2000, "type": "quantitative", "axis": {"zindex": 2, "orient": "top", "values": [1995,1996,1997,1998,1999,2000,2001,2002,2003,2004,2005,2006,2007,2008,2009,2010,2011,2012,2013,2014,2015], "labels": false, "tickSize": -3, "title": null, "domain": false}},
   "y": {"datum": 0, "type": "quantitative", "axis": {"zindex": 2, "orient": "right", "values": [-15,-14,-13,-12,-11,-10,-9,-8,-7,-6,-5,-4,-3,-2,-1,0,1,2,3,4,5,6,7,8,9,10], "labels": false, "tickSize": -9, "title": null, "domain": false}}
  }
 }
],
"resolve": {"axis": {"x": "independent", "y": "independent"}}
}
